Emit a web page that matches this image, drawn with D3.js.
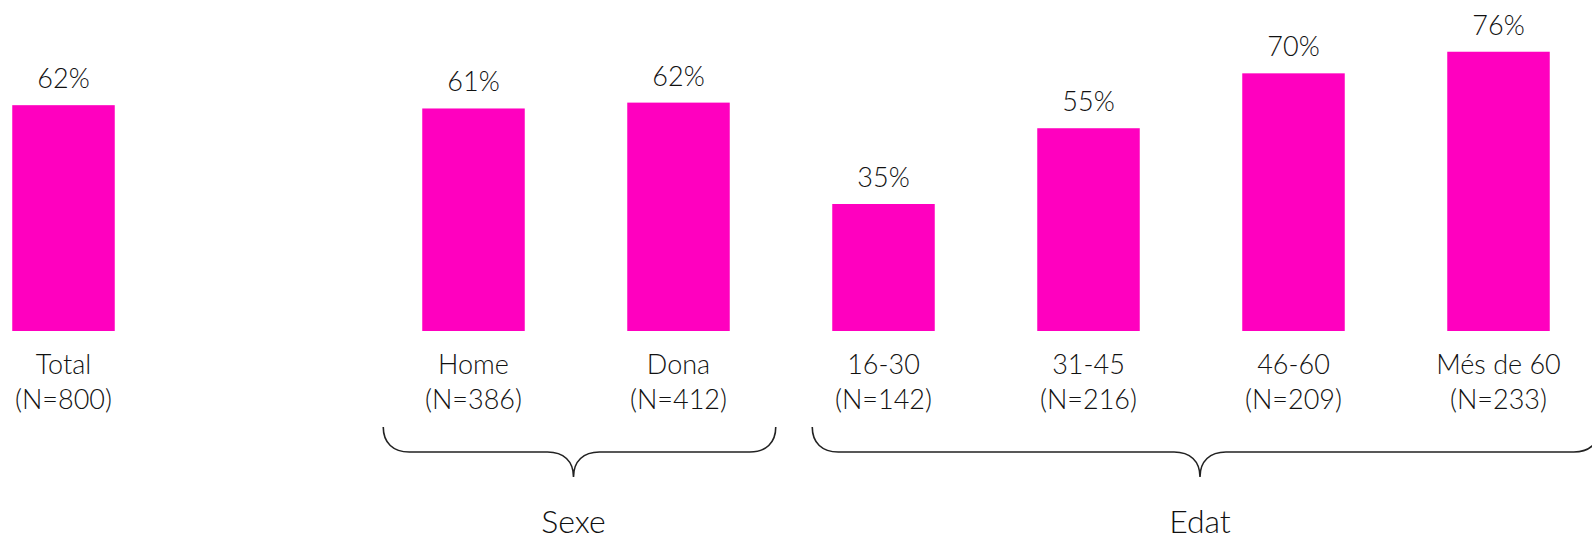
<!DOCTYPE html>
<html>
<head>
<meta charset="utf-8">
<script src="https://cdn.jsdelivr.net/npm/d3@7"></script>
<style>
  html, body { margin: 0; padding: 0; background: #fff; }
  svg { display: block; }
  text { font-family: "Century Gothic", Lato, "Liberation Sans", sans-serif; font-weight: 300; fill: #111; }
</style>
</head>
<body>
<div id="chart"></div>
<script>
// categories in order ('' is the blank gap after Total)
const categories = ['Total', '', 'Home', 'Dona', '16-30', '31-45', '46-60', 'Més de 60'];
const sampleSizes = ['N=800', '', 'N=386', 'N=412', 'N=142', 'N=216', 'N=209', 'N=233'];
const values = [61.7, null, 60.8, 62.4, 34.7, 55.4, 70.4, 76.3];

// brackets under the category labels
const groups = [
    {name: 'Sexe', from: 'Home', to: 'Dona'},
    {name: 'Edat', from: '16-30', to: 'Més de 60'}
];

const width = 1592, height = 539;
const baseY = 331;

const svg = d3.select('#chart').append('svg')
    .attr('width', width)
    .attr('height', height);

const x = d3.scaleBand()
    .domain(categories)
    .range([-39, 1601])
    .paddingInner(0.5)
    .paddingOuter(0.25);

const y = d3.scaleLinear()
    .domain([0, 100])
    .range([baseY, baseY - 366]);

const rows = categories.map((c, i) => ({cat: c, n: sampleSizes[i], v: values[i]}))
    .filter(d => d.v !== null);

svg.append('g')
    .selectAll('rect')
    .data(rows)
    .join('rect')
    .attr('x', d => x(d.cat))
    .attr('y', d => y(d.v))
    .attr('width', x.bandwidth())
    .attr('height', d => y(0) - y(d.v))
    .attr('fill', '#ff00bf');

svg.append('g')
    .selectAll('text')
    .data(rows)
    .join('text')
    .attr('x', d => x(d.cat) + x.bandwidth() / 2)
    .attr('y', d => y(d.v) - 17)
    .attr('text-anchor', 'middle')
    .style('font-size', '27px')
    .text(d => Math.round(d.v) + '%');

const labels = svg.append('g')
    .selectAll('text')
    .data(rows)
    .join('text')
    .attr('text-anchor', 'middle')
    .style('font-size', '27px');

labels.append('tspan')
    .attr('x', d => x(d.cat) + x.bandwidth() / 2)
    .attr('y', 374)
    .text(d => d.cat);

labels.append('tspan')
    .attr('x', d => x(d.cat) + x.bandwidth() / 2)
    .attr('y', 409)
    .text(d => `(${d.n})`);

// curly brackets
const braceTop = 427, braceMid = 452, braceTip = 477, r = 26;

function bracePath(x0, x1, xt) {
    return `M${x0},${braceTop} C${x0},${braceTop + 16} ${x0 + 10},${braceMid} ${x0 + r},${braceMid}` +
        ` L${xt - r},${braceMid} C${xt - 10},${braceMid} ${xt},${braceMid + 9} ${xt},${braceTip}` +
        ` C${xt},${braceMid + 9} ${xt + 10},${braceMid} ${xt + r},${braceMid}` +
        ` L${x1 - r},${braceMid} C${x1 - 10},${braceMid} ${x1},${braceTop + 16} ${x1},${braceTop}`;
}

const padL = {Sexe: 39, Edat: 20};
const padR = {Sexe: 46, Edat: 50};

groups.forEach(g => {
    const x0 = x(g.from) - padL[g.name];
    const x1 = x(g.to) + x.bandwidth() + padR[g.name];
    const xt = (x0 + x1) / 2 - 6;

    svg.append('path')
        .attr('d', bracePath(x0, x1, xt))
        .attr('fill', 'none')
        .attr('stroke', '#222')
        .attr('stroke-width', 1.6);

    svg.append('text')
        .attr('x', xt)
        .attr('y', 533)
        .attr('text-anchor', 'middle')
        .style('font-size', '32px')
        .text(g.name);
});
</script>
</body>
</html>
